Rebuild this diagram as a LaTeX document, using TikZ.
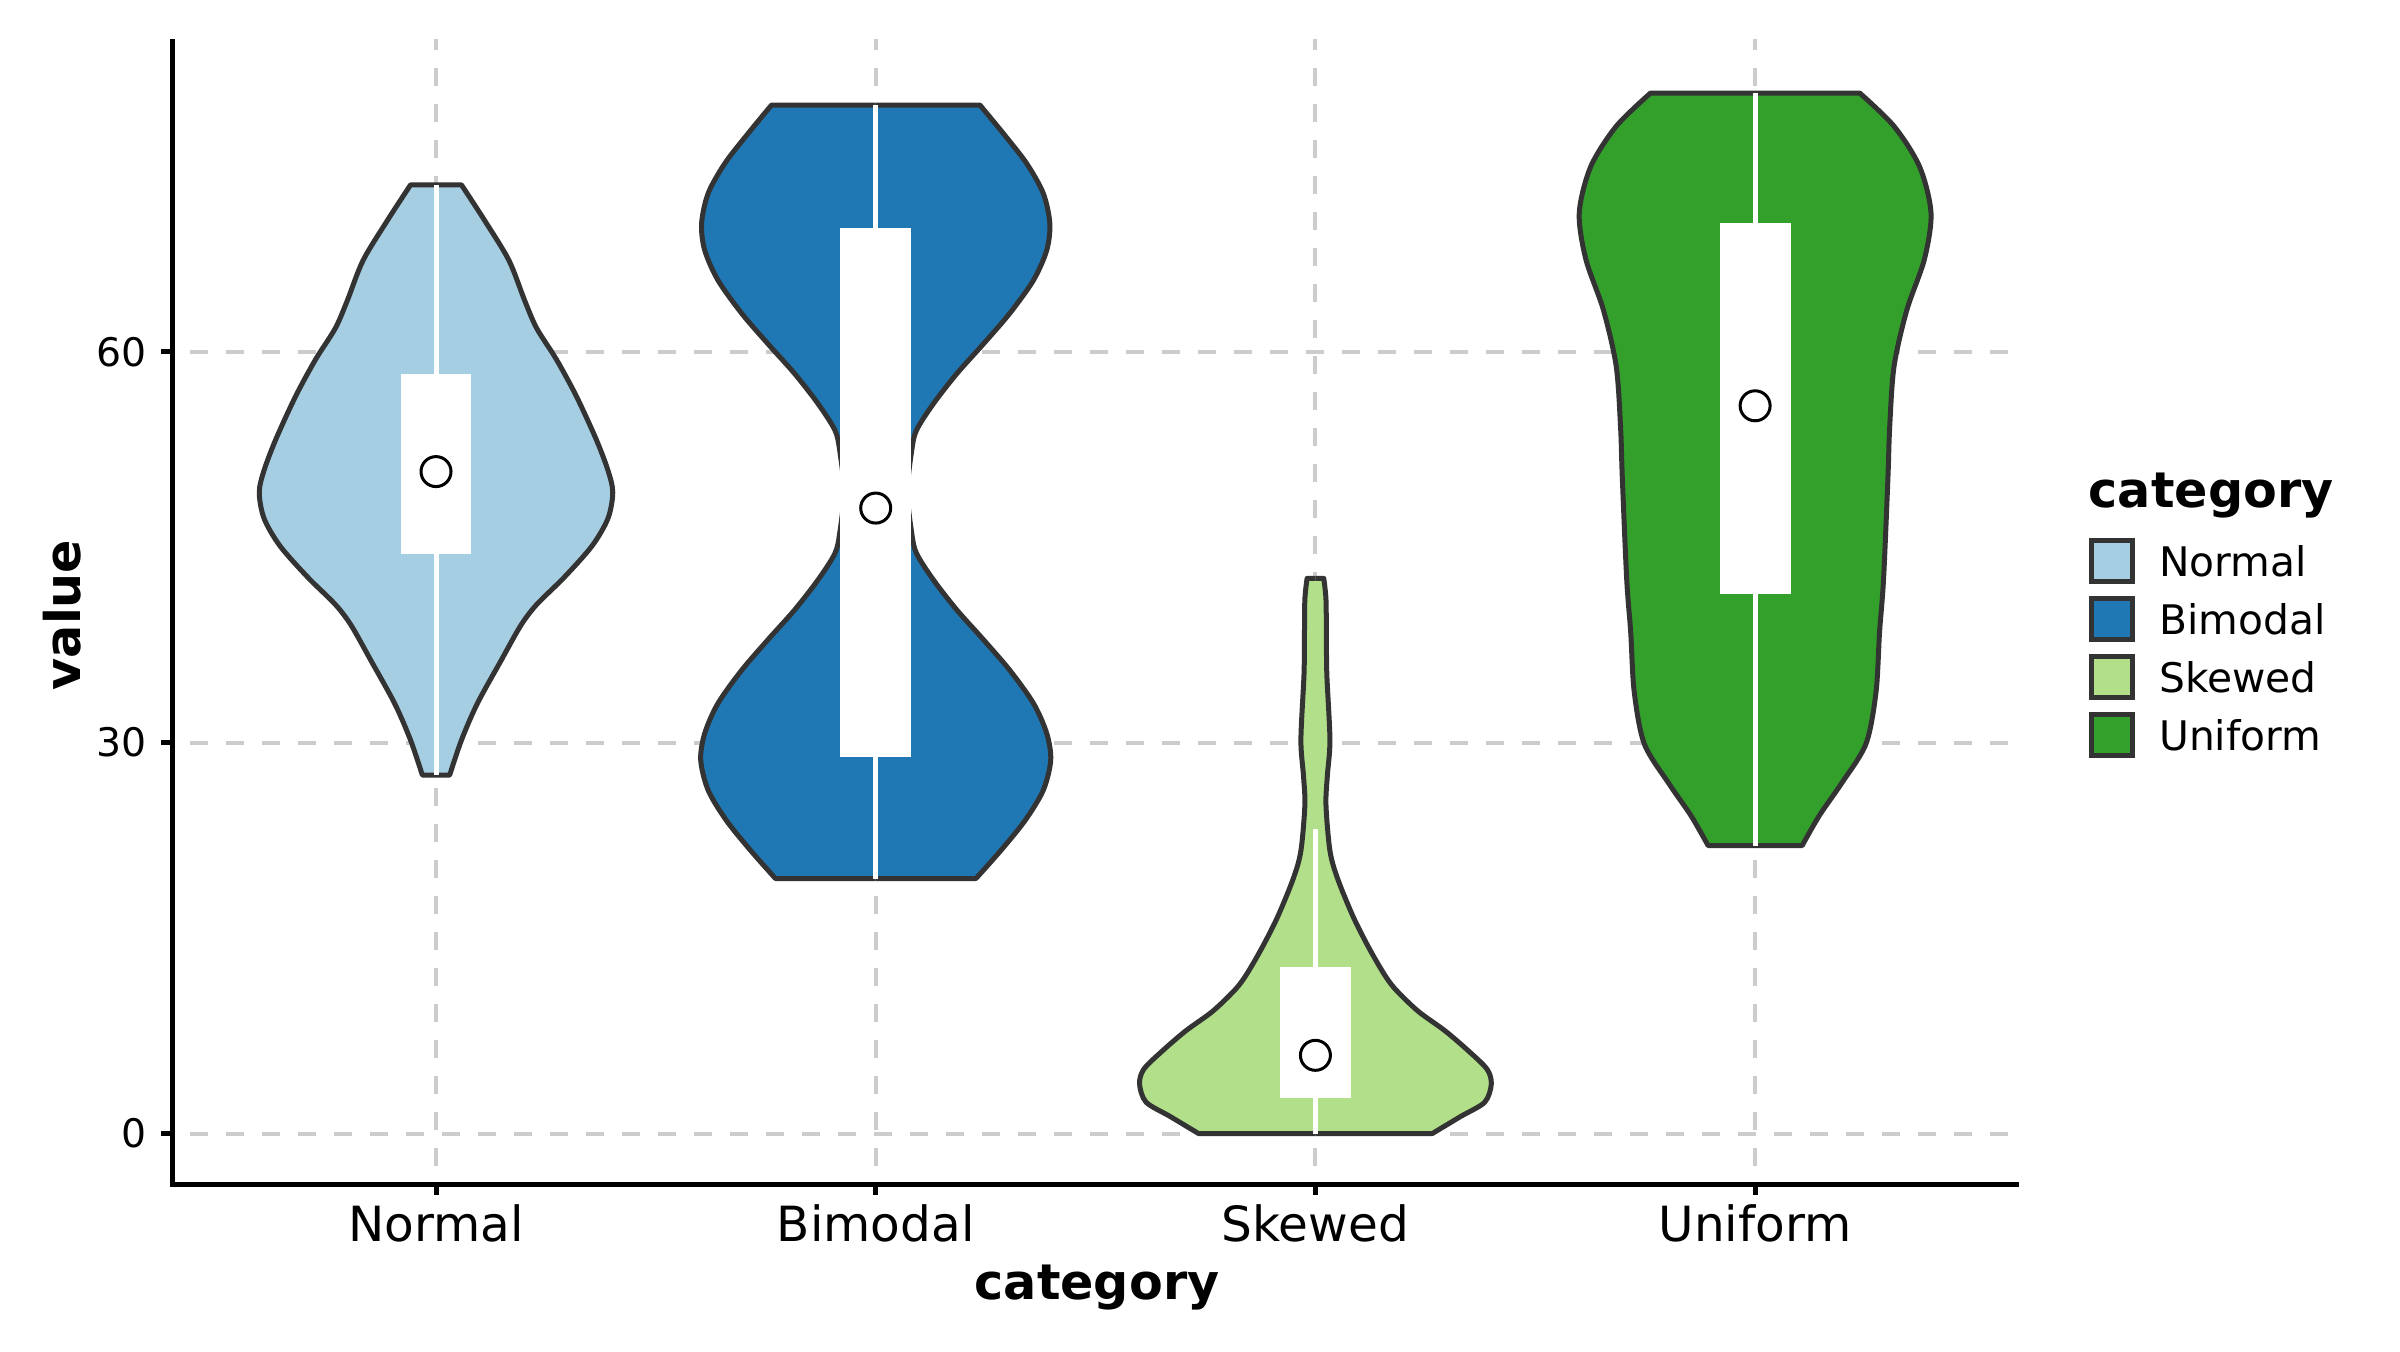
\documentclass[tikz,border=0pt]{standalone}
\usepackage{fontspec}
\setmainfont{DejaVu Sans}
\usetikzlibrary{positioning}

\definecolor{normalblue}{HTML}{A6CEE3}
\definecolor{bimodalblue}{HTML}{1F78B4}
\definecolor{skewedgreen}{HTML}{B2DF8A}
\definecolor{uniformgreen}{HTML}{33A02C}
\definecolor{edgegray}{HTML}{333333}
\definecolor{gridgray}{HTML}{CCCCCC}

\tikzset{
  grid line/.style={gridgray, line width=0.04cm, dash pattern=on 0.18cm off 0.18cm, dash phase=0.18cm},
  axis line/.style={black, line width=0.05cm},
  violin edge/.style={edgegray, line width=0.05cm, line join=round},
  whisker/.style={white, line width=0.05cm},
  median dot/.style={draw=black, fill=white, line width=0.03cm},
  legend key/.style={draw=edgegray, line width=0.05cm, minimum size=0.41cm, inner sep=0pt},
  xtick label/.style={anchor=base, inner sep=0pt, font=\fontsize{13.8}{16}\selectfont},
  ytick label/.style={anchor=east, inner sep=0pt, font=\fontsize{11.2}{13}\selectfont},
  axis title/.style={inner sep=0pt, font=\bfseries\fontsize{14}{17}\selectfont},
  legend label/.style={inner sep=0pt, font=\fontsize{11.6}{14}\selectfont},
}

% position, fill, top, bottom, right-hand outline (offset,value)
\newcommand{\violin}[5]{%
  \foreach \side in {1,-1}
    \fill[#2, shift={(#1,0)}, xscale=\side] (-0.003,#3) -- plot[smooth] coordinates {#5} -- (-0.003,#4) -- cycle;
  \foreach \side in {1,-1}
    \draw[violin edge, shift={(#1,0)}, xscale=\side] (0,#3) -- plot[smooth] coordinates {#5} -- (0,#4);
}

\begin{document}
\begin{tikzpicture}
  \useasboundingbox (0,0) rectangle (24,13.51);
  \begin{scope}[x=4.397cm, y=0.1303cm, shift={(-0.037cm,2.175cm)}]
    \coordinate (origin) at (0.4,-3.88);
    \coordinate (xend) at (4.6,-3.88);
    \coordinate (ytop) at (0.4,84);
    % grid
    \foreach \v in {0,30,60}
      \draw[grid line] (0.4,\v) -- (4.6,\v);
    \foreach \k in {1,...,4}
      \draw[grid line] (\k,-3.88) -- (\k,84);
    % violins
    \violin{1}{normalblue}{72.8}{27.5}{(0.058,72.8) (0.112,70.0) (0.166,67.0) (0.202,63.9) (0.229,61.8) (0.274,59.4) (0.319,56.6) (0.364,53.3) (0.391,50.9) (0.402,49.2) (0.391,47.2) (0.355,45.1) (0.292,42.7) (0.229,40.6) (0.193,39.0) (0.148,36.3) (0.094,33.0) (0.058,30.2) (0.031,27.5)}
    \violin{2}{bimodalblue}{78.93}{19.57}{(0.237,78.93) (0.290,76.76) (0.343,74.46) (0.381,72.16) (0.396,69.85) (0.389,67.8) (0.359,65.5) (0.305,62.95) (0.245,60.6) (0.184,58.3) (0.131,56.0) (0.093,53.99) (0.082,52.45) (0.072,49.25) (0.082,46.05) (0.093,44.51) (0.131,42.5) (0.184,40.2) (0.245,37.9) (0.305,35.55) (0.359,33.0) (0.389,30.7) (0.398,28.65) (0.381,26.34) (0.340,24.04) (0.285,21.74) (0.228,19.57)}
    \violin{3}{skewedgreen}{42.6}{0}{(0.019,42.6) (0.024,41.0) (0.025,38.0) (0.026,35.2) (0.033,30.2) (0.027,27.4) (0.024,25.2) (0.033,21.7) (0.050,19.6) (0.085,16.7) (0.120,14.35) (0.155,12.3) (0.181,11.1) (0.233,9.4) (0.294,7.9) (0.346,6.4) (0.390,4.95) (0.400,3.8) (0.385,2.4) (0.330,1.3) (0.266,0)}
    \violin{4}{uniformgreen}{79.85}{22.1}{(0.238,79.85) (0.316,77.3) (0.374,74.2) (0.400,70.65) (0.385,67.1) (0.345,63.2) (0.316,58.9) (0.306,54.2) (0.302,50.3) (0.292,42.5) (0.283,38.5) (0.275,33.9) (0.252,29.9) (0.195,26.8) (0.146,24.4) (0.107,22.1)}
    % whiskers, boxes and medians
    \foreach \k/\lo/\qa/\med/\qb/\hi in {1/27.5/44.5/50.8/58.3/72.8, 2/19.57/28.9/48.0/69.5/78.93, 3/0/2.75/6.0/12.8/23.4, 4/22.1/41.4/55.85/69.9/79.85}{
      \draw[whisker] (\k,\lo) -- (\k,\hi);
      \fill[white] (\k-0.0805,\qa) rectangle (\k+0.0805,\qb);
      \draw[median dot] (\k,\med) circle[radius=0.15cm];
    }
    % axes
    \draw[axis line] (ytop) -- (origin) -- (xend);
    \foreach \v in {0,30,60}
      \draw[axis line] (0.4,\v) -- ++(-0.11cm,0) node[ytick label, xshift=-0.12cm] (ytick\v) {\v};
    \foreach \k/\catname in {1/Normal,2/Bimodal,3/Skewed,4/Uniform}
      \draw[axis line] (\k,-3.88) -- ++(0,-0.11cm) node[xtick label, yshift=-0.465cm] (xtick\k) {\catname};
  \end{scope}

  \node[axis title, anchor=base] (xlabel) at (10.97,0.515) {category};
  \node[axis title, anchor=base, rotate=90] (ylabel) at (0.80,7.36) {value};

  % legend
  \node[axis title, anchor=base west] (legendtitle) at (20.88,8.43) {category};
  \foreach \catname/\col [count=\i] in {Normal/normalblue, Bimodal/bimodalblue, Skewed/skewedgreen, Uniform/uniformgreen}{
    \node[legend key, fill=\col] (key\i) at (21.12,{8.48-0.58*\i}) {};
    \node[legend label, right=0.235cm of key\i] (label\i) {\catname};
  }
\end{tikzpicture}
\end{document}
